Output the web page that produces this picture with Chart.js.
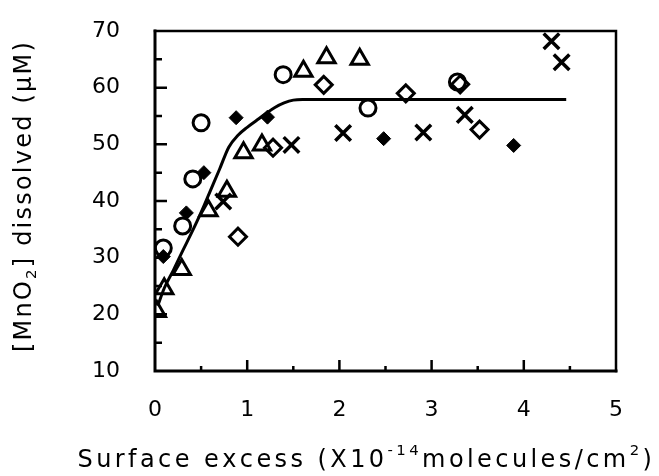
<!DOCTYPE html>
<html>
<head>
<meta charset="utf-8">
<script src="https://cdn.jsdelivr.net/npm/chart.js@4.4.1/dist/chart.umd.min.js"></script>
<style>
    html, body { margin: 0; padding: 0; background: #fff; }
    #wrap { width: 659px; height: 476px; }
</style>
</head>
<body>
<div id="wrap"><canvas id="mnChart" width="659" height="476"></canvas></div>
<script>
// Values
const circleX = [0.09, 0.30, 0.41, 0.50, 1.39, 2.31, 3.28];
const circleY = [31.7, 35.6, 43.9, 53.8, 62.3, 56.4, 61.0];

const filledDiamondX = [0.09, 0.34, 0.53, 0.88, 1.22, 2.48, 3.89];
const filledDiamondY = [30.2, 37.9, 45.0, 54.7, 54.8, 51.0, 49.8];

const triangleX = [0.02, 0.10, 0.29, 0.58, 0.78, 0.96, 1.16, 1.61, 1.86, 2.22];
const triangleY = [20.5, 24.5, 27.9, 38.3, 41.7, 48.5, 49.9, 62.9, 65.3, 65.0];

const crossX = [0.74, 1.48, 2.04, 2.91, 3.36, 4.30, 4.41];
const crossY = [39.9, 49.9, 52.0, 52.1, 55.2, 68.2, 64.5];

const openDiamondX = [0.90, 1.28, 1.83, 2.72, 3.31, 3.52];
const openDiamondY = [33.7, 49.4, 60.5, 59.0, 60.6, 52.6];

// fitted curve
const curveX = [0.03, 0.1, 0.2, 0.3, 0.4, 0.5, 0.6, 0.7, 0.8, 0.9, 1.0, 1.1, 1.2, 1.3, 1.4, 1.5, 1.6, 4.46];
const curveY = [21.5, 24.6, 27.8, 31.2, 34.5, 38.0, 41.8, 45.6, 49.5, 51.6, 53.0, 54.2, 55.4, 56.5, 57.3, 57.8, 57.9, 57.9];

const xTicks = [0, 1, 2, 3, 4, 5];
const yTicks = [10, 20, 30, 40, 50, 60, 70];

function toPoints(xs, ys) {
    return xs.map((x, i) => ({ x: x, y: ys[i] }));
}

// draws text runs (normal / sup / sub) stretched to a target width
function drawRuns(ctx, runs, size, targetWidth) {
    let base = 0;
    let chars = 0;
    runs.forEach(r => {
        const fs = r.shift ? size * 0.62 : size;
        ctx.font = fs + 'px "DejaVu Sans"';
        base += ctx.measureText(r.t).width;
        chars += r.t.length;
    });
    const spacing = (targetWidth - base) / chars;
    let x = -targetWidth / 2;
    runs.forEach(r => {
        const fs = r.shift ? size * 0.62 : size;
        ctx.font = fs + 'px "DejaVu Sans"';
        const dy = r.shift === 'sup' ? -size * 0.42 : (r.shift === 'sub' ? size * 0.3 : 0);
        for (const ch of r.t) {
            ctx.fillText(ch, x, dy);
            x += ctx.measureText(ch).width + spacing;
        }
    });
}

const framePlugin = {
    id: 'frame',
    beforeDatasetsDraw(chart) {
        const ctx = chart.ctx;
        const a = chart.chartArea;
        const xs = chart.scales.x;
        const ys = chart.scales.y;
        ctx.save();
        ctx.strokeStyle = '#000';
        ctx.lineCap = 'square';

        // top and right border
        ctx.lineWidth = 2.5;
        ctx.beginPath();
        ctx.moveTo(a.left, a.top);
        ctx.lineTo(a.right, a.top);
        ctx.lineTo(a.right, a.bottom);
        ctx.stroke();

        // axes
        ctx.lineWidth = 3;
        ctx.beginPath();
        ctx.moveTo(a.left, a.top);
        ctx.lineTo(a.left, a.bottom);
        ctx.lineTo(a.right, a.bottom);
        ctx.stroke();

        // inward ticks
        ctx.lineWidth = 2.5;
        ctx.lineCap = 'butt';
        ctx.beginPath();
        for (let v = 15; v < 70; v += 5) {
            const py = ys.getPixelForValue(v);
            const len = v % 10 === 0 ? 12 : 7;
            ctx.moveTo(a.left, py);
            ctx.lineTo(a.left + len, py);
        }
        for (let v = 0.5; v < 5; v += 0.5) {
            const px = xs.getPixelForValue(v);
            const len = Number.isInteger(v) ? 11 : 5;
            ctx.moveTo(px, a.bottom);
            ctx.lineTo(px, a.bottom - len);
        }
        ctx.stroke();
        ctx.restore();
    },
    afterDraw(chart) {
        const ctx = chart.ctx;
        ctx.save();
        ctx.fillStyle = '#000';
        ctx.textBaseline = 'middle';
        ctx.textAlign = 'left';

        // x axis title
        ctx.save();
        ctx.translate(366, 461);
        drawRuns(ctx, [
            { t: 'Surface excess (X10' },
            { t: '-14', shift: 'sup' },
            { t: 'molecules/cm' },
            { t: '2', shift: 'sup' },
            { t: ')' }
        ], 24, 577);
        ctx.restore();

        // y axis title
        ctx.save();
        ctx.translate(25, 196);
        ctx.rotate(-Math.PI / 2);
        drawRuns(ctx, [
            { t: '[MnO' },
            { t: '2', shift: 'sub' },
            { t: '] dissolved (\u03bcM)' }
        ], 24, 312);
        ctx.restore();

        ctx.restore();
    }
};

const ctx = document.getElementById('mnChart');
new Chart(ctx, {
    type: 'scatter',
    data: {
        datasets: [
            {
                type: 'line',
                label: 'curve',
                data: toPoints(curveX, curveY),
                borderColor: '#000',
                borderWidth: 3,
                pointRadius: 0,
                fill: false,
                cubicInterpolationMode: 'monotone'
            },
            {
                label: 'circles',
                data: toPoints(circleX, circleY),
                pointStyle: 'circle',
                pointRadius: 8,
                borderWidth: 3,
                borderColor: '#000',
                backgroundColor: 'rgba(255,255,255,0)'
            },
            {
                label: 'filled diamonds',
                data: toPoints(filledDiamondX, filledDiamondY),
                pointStyle: 'rectRot',
                pointRadius: 7,
                borderWidth: 1,
                borderColor: '#000',
                backgroundColor: '#000'
            },
            {
                label: 'triangles',
                data: toPoints(triangleX, triangleY),
                pointStyle: 'triangle',
                pointRadius: 10,
                borderWidth: 3,
                borderColor: '#000',
                backgroundColor: 'rgba(255,255,255,0)'
            },
            {
                label: 'crosses',
                data: toPoints(crossX, crossY),
                pointStyle: 'crossRot',
                pointRadius: 11,
                borderWidth: 3.5,
                borderColor: '#000'
            },
            {
                label: 'open diamonds',
                data: toPoints(openDiamondX, openDiamondY),
                pointStyle: 'rectRot',
                pointRadius: 8.5,
                borderWidth: 3,
                borderColor: '#000',
                backgroundColor: 'rgba(255,255,255,0)'
            }
        ]
    },
    options: {
        responsive: false,
        animation: false,
        layout: {
            padding: { top: 31, right: 43, left: 0, bottom: 0 }
        },
        plugins: {
            legend: { display: false },
            tooltip: { enabled: false }
        },
        scales: {
            x: {
                type: 'linear',
                min: 0,
                max: 5,
                afterBuildTicks: function(scale) {
                    scale.ticks = xTicks.map(v => ({ value: v }));
                },
                afterFit: function(scale) {
                    scale.height = 105;
                    scale.paddingLeft = 0;
                    scale.paddingRight = 0;
                },
                ticks: {
                    color: '#000',
                    padding: 26,
                    font: { family: 'DejaVu Sans', size: 22 }
                },
                grid: { display: false, drawTicks: false },
                border: { display: false }
            },
            y: {
                min: 10,
                max: 70,
                afterBuildTicks: function(scale) {
                    scale.ticks = yTicks.map(v => ({ value: v }));
                },
                afterFit: function(scale) {
                    scale.width = 155;
                    scale.paddingTop = 0;
                    scale.paddingBottom = 0;
                },
                ticks: {
                    color: '#000',
                    padding: 35,
                    font: { family: 'DejaVu Sans', size: 22 }
                },
                grid: { display: false, drawTicks: false },
                border: { display: false }
            }
        }
    },
    plugins: [framePlugin]
});
</script>
</body>
</html>
